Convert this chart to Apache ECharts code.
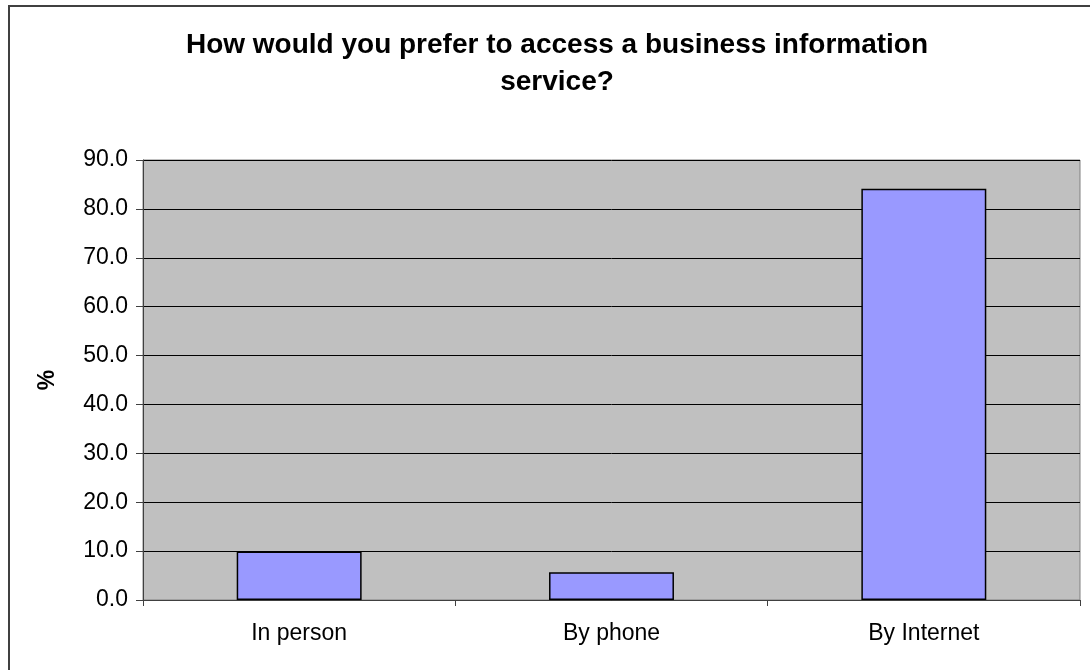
<!DOCTYPE html>
<html>
<head>
<meta charset="utf-8">
<script src="https://cdn.jsdelivr.net/npm/echarts@6/dist/echarts.min.js"></script>
<style>html,body{margin:0;padding:0;background:#fff;}#c{width:1090px;height:670px;}</style>
</head>
<body>
<div id="c"></div>
<script>
const categories = ['In person', 'By phone', 'By Internet'];
const values = [9.9, 5.7, 84.1];
const titleText = 'How would you prefer to access a business information\nservice?';
const axisName = '%';

const chart = echarts.init(document.getElementById('c'), null, {renderer: 'canvas'});
chart.setOption({
  animation: false,
  backgroundColor: '#ffffff',
  title: {
    text: titleText,
    left: 552,
    top: 22,
    textAlign: 'center',
    textStyle: {
      fontFamily: 'Liberation Sans, Arial, sans-serif',
      fontWeight: 'bold',
      fontSize: 28,
      lineHeight: 37,
      color: '#000'
    }
  },
  graphic: [{
    type: 'rect',
    shape: {x: 9, y: 6, width: 1100, height: 700},
    style: {fill: 'none', stroke: '#404040', lineWidth: 2},
    z: 100
  }],
  grid: {
    left: 143, top: 160, right: 10, bottom: 70,
    show: true, backgroundColor: '#C0C0C0', borderColor: '#808080', borderWidth: 1
  },
  xAxis: {
    type: 'category',
    data: categories,
    axisLine: {lineStyle: {color: '#404040', width: 1}},
    axisTick: {show: true, length: 6, lineStyle: {color: '#404040'}},
    axisLabel: {
      margin: 22, color: '#000', fontSize: 23,
      fontFamily: 'Liberation Sans, Arial, sans-serif'
    }
  },
  yAxis: {
    type: 'value',
    min: 0, max: 90, interval: 10,
    name: axisName,
    nameLocation: 'middle',
    nameRotate: 90,
    nameGap: 84,
    nameTextStyle: {fontSize: 23, fontWeight: 'bold', color: '#000', fontFamily: 'Liberation Sans, Arial, sans-serif'},
    axisLine: {show: true, lineStyle: {color: '#404040', width: 1}},
    axisTick: {show: true, length: 7, lineStyle: {color: '#404040'}},
    axisLabel: {
      margin: 15, color: '#000', fontSize: 23,
      fontFamily: 'Liberation Sans, Arial, sans-serif',
      formatter: v => v.toFixed(1)
    },
    splitLine: {show: true, lineStyle: {color: '#000', width: 1}}
  },
  series: [{
    type: 'bar',
    data: values,
    barWidth: '40%',
    itemStyle: {color: '#9999FF', borderColor: '#000', borderWidth: 1.5}
  }]
});
</script>
</body>
</html>
